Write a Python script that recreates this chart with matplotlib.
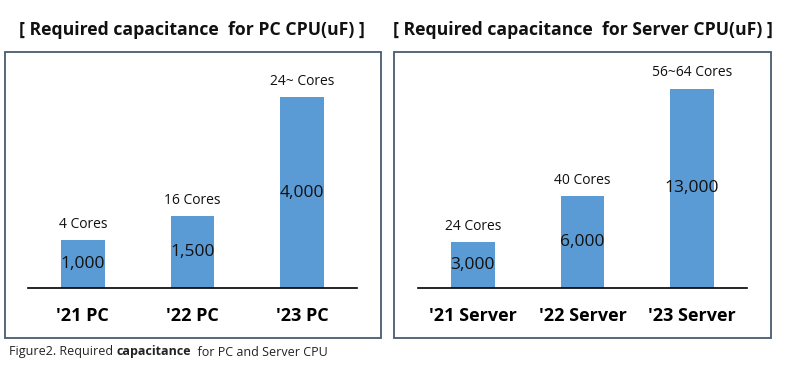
import matplotlib
matplotlib.use("Agg")
import matplotlib.pyplot as plt
from matplotlib.patches import Rectangle

plt.rcParams['font.family'] = ['Open Sans', 'DejaVu Sans']

# data
pc_labels = ["'21 PC", "'22 PC", "'23 PC"]
pc_values = [1000, 1500, 4000]
pc_cores = ["4 Cores", "16 Cores", "24~ Cores"]

server_labels = ["'21 Server", "'22 Server", "'23 Server"]
server_values = [3000, 6000, 13000]
server_cores = ["24 Cores", "40 Cores", "56~64 Cores"]

W, H = 785.0, 367.0
bar_color = '#5b9bd5'
box_color = '#4a5a6e'

fig = plt.figure(figsize=(W / 100, H / 100), dpi=100)


def px(x0, y0, x1, y1):
    # pixel box (top-left origin) -> figure fraction rect
    return [x0 / W, 1 - y1 / H, (x1 - x0) / W, (y1 - y0) / H]


def panel(box, axbox, title, title_x, labels, values, cores, ymax):
    r = px(*box)
    fig.patches.append(Rectangle((r[0], r[1]), r[2], r[3], transform=fig.transFigure,
                                 fill=False, edgecolor=box_color, linewidth=1.3))
    fig.text(title_x / W, 1 - 30 / H, title, ha='center', va='center',
             fontsize=12.7, fontweight='bold', color='#111111')

    ax = fig.add_axes(px(*axbox))
    ax.patch.set_alpha(0)
    xs = range(len(values))
    ax.bar(xs, values, width=0.4, color=bar_color, zorder=2)
    ax.set_xlim(-0.5, len(values) - 0.5)
    ax.set_ylim(0, ymax)
    for s in ['top', 'left', 'right']:
        ax.spines[s].set_visible(False)
    ax.spines['bottom'].set_linewidth(1.2)
    ax.spines['bottom'].set_color('black')
    ax.set_yticks([])
    ax.set_xticks(list(xs))
    ax.set_xticklabels(labels, fontsize=13, fontweight='bold')
    ax.tick_params(axis='x', length=0, pad=14)
    for x, v, c in zip(xs, values, cores):
        ax.text(x, v / 2, format(v, ','), ha='center', va='center',
                fontsize=12.5, color='#111111', zorder=3)
        ax.annotate(c, (x, v), xytext=(0, 6), textcoords='offset points',
                    ha='center', va='bottom', fontsize=10, color='#111111')
    return ax


panel((5, 52, 381, 338), (28, 52, 357, 288),
      "[ Required capacitance  for PC CPU(uF) ]", 192,
      pc_labels, pc_values, pc_cores, 4950)
panel((394, 52, 771, 338), (418, 52, 747, 288),
      "[ Required capacitance  for Server CPU(uF) ]", 583,
      server_labels, server_values, server_cores, 15400)

# caption with one bold word, pieces placed one after another
renderer = fig.canvas.get_renderer()
x = 9 / W
for part, weight in [("Figure2. Required ", 'normal'), ("capacitance", 'bold'),
                     ("  for PC and Server CPU", 'normal')]:
    t = fig.text(x, 1 - 352 / H, part, ha='left', va='center',
                 fontsize=9, fontweight=weight, color='#222222')
    bb = t.get_window_extent(renderer)
    x = bb.x1 / W

fig.savefig('out.png', dpi=100)
